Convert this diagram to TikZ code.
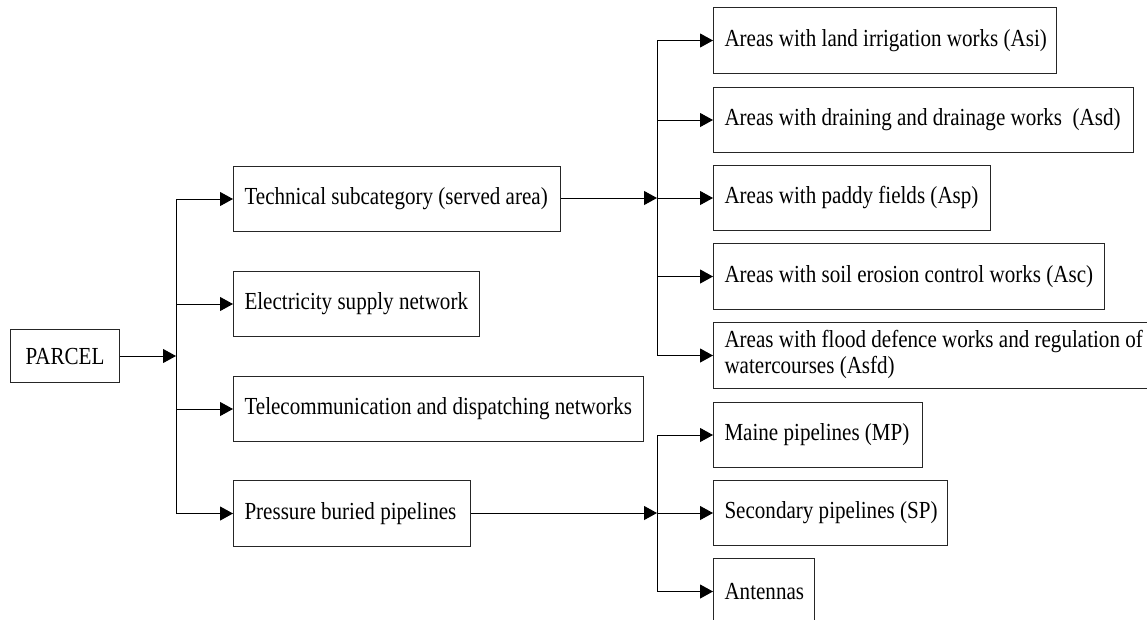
\documentclass[tikz,border=0pt]{standalone}
\usepackage{fontspec}
\setmainfont{Liberation Serif}[FakeStretch=0.86]
\usetikzlibrary{arrows.meta}
\newcommand\boxtext[2]{\makebox[#1][l]{#2}}
\begin{document}
\begin{tikzpicture}[x=1pt,y=-1pt,
  box/.style={draw=black!85, line width=1pt, anchor=north west, inner xsep=11pt, inner ysep=0pt,
    minimum height=65pt, font=\fontsize{24.5}{26}\selectfont},
  link/.style={line width=1pt, draw=black},
  arr/.style={link, -{Triangle[length=13pt,width=14pt]}}]
\useasboundingbox (0,0) rectangle (1147,619);
\clip (0,0) rectangle (1147,619);
% left column
\node[box, minimum height=53pt, inner xsep=0pt, minimum width=109pt] (parcel) at (10,329) {PARCEL};
% middle column
\node[box] (tech)  at (233,166) {\boxtext{305pt}{Technical subcategory (served area)}};
\node[box] (elec)  at (233,271) {\boxtext{224pt}{Electricity supply network}};
\node[box] (tele)  at (233,376) {\boxtext{388pt}{Telecommunication and dispatching networks}};
\node[box, minimum height=66pt] (press) at (233,480) {\boxtext{215pt}{Pressure buried pipelines}};
% right column, served areas
\node[box, minimum height=66pt] (asi)  at (713,7)   {\boxtext{321pt}{Areas with land irrigation works (Asi)}};
\node[box] (asd)  at (713,87)  {\boxtext{398pt}{Areas with draining and drainage works\ \ (Asd)}};
\node[box] (asp)  at (713,165) {\boxtext{255pt}{Areas with paddy fields (Asp)}};
\node[box, minimum height=66pt] (asc)  at (713,243) {\boxtext{369pt}{Areas with soil erosion control works (Asc)}};
\node[box, minimum height=66pt] (asfd) at (713,322) {\boxtext{448pt}{\begin{tabular}{@{}l@{}}Areas with flood defence works and regulation of\\watercourses (Asfd)\end{tabular}}};
% right column, pipelines
\node[box] (mp)  at (713,402) {\boxtext{187pt}{Maine pipelines (MP)}};
\node[box] (sp)  at (713,480) {\boxtext{212pt}{Secondary pipelines (SP)}};
\node[box, minimum height=66pt] (ant) at (713,558) {\boxtext{79pt}{Antennas}};
% junctions
\coordinate (j1) at (176,356);
\coordinate (j2) at (657,198);
\coordinate (j3) at (657,513);
% PARCEL branches
\draw[arr] (parcel.east |- j1) -- (j1);
\draw[link] (j1 |- tech.west) -- (j1 |- press.west);
\foreach \n in {tech,elec,tele,press}
  \draw[arr] (j1 |- \n.west) -- (\n.west);
% served area branches
\draw[arr] (tech.east |- j2) -- (j2);
\draw[link] (j2 |- asi.west) -- (j2 |- asfd.west);
\foreach \n in {asi,asd,asp,asc,asfd}
  \draw[arr] (j2 |- \n.west) -- (\n.west);
% pipeline branches
\draw[arr] (press.east |- j3) -- (j3);
\draw[link] (j3 |- mp.west) -- (j3 |- ant.west);
\foreach \n in {mp,sp,ant}
  \draw[arr] (j3 |- \n.west) -- (\n.west);
\end{tikzpicture}
\end{document}
